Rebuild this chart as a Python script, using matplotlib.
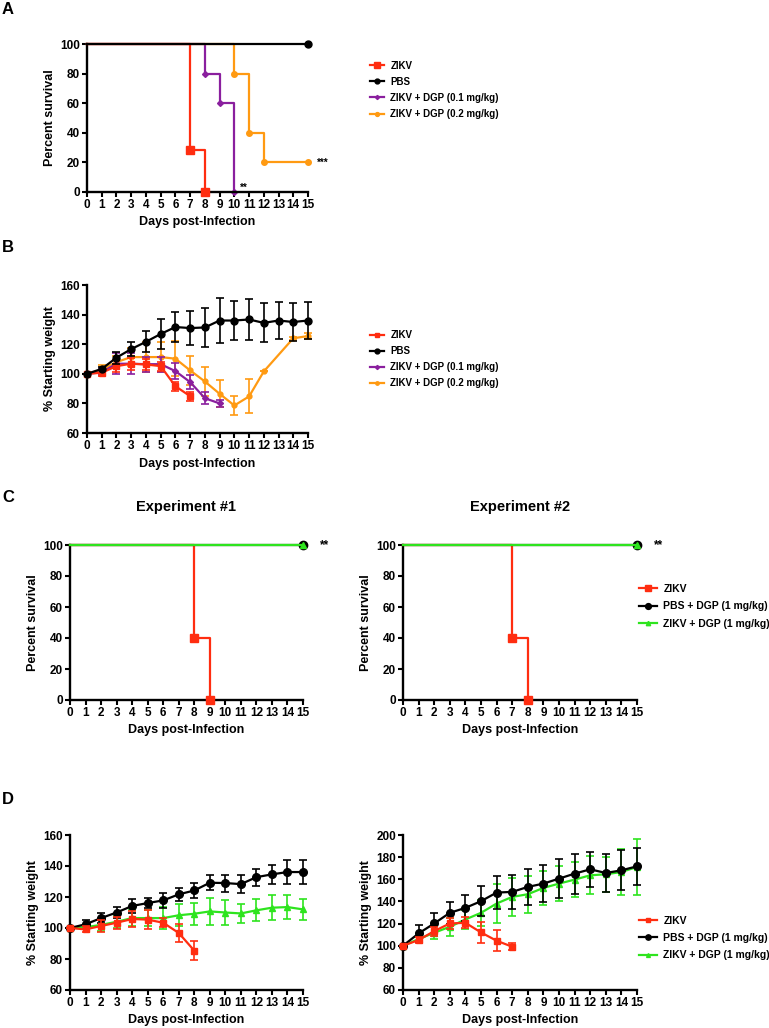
import matplotlib
matplotlib.use("Agg")
import matplotlib.pyplot as plt
import numpy as np

plt.rcParams['font.family'] = ['Liberation Sans', 'DejaVu Sans']
plt.rcParams['font.weight'] = 'bold'
plt.rcParams['axes.labelweight'] = 'bold'

RED = '#FF2D10'
BLACK = '#000000'
PURPLE = '#8A1F9E'
ORANGE = '#FF9A12'
GREEN = '#2EE41E'

days = list(range(16))

# ---- A: survival (event days / percent) ----
a_zikv_t = [0, 7, 8]
a_zikv_s = [100, 28.6, 0]
a_pbs_t = [0, 15]
a_pbs_s = [100, 100]
a_dgp01_t = [0, 8, 9, 10]
a_dgp01_s = [100, 80, 60, 0]
a_dgp02_t = [0, 10, 11, 12, 15]
a_dgp02_s = [100, 80, 40, 20, 20]
a_labels = ['ZIKV', 'PBS', 'ZIKV + DGP (0.1 mg/kg)', 'ZIKV + DGP (0.2 mg/kg)']

# ---- B: weight ----
b_zikv = [100, 100.7, 105.2, 106.8, 106.3, 105.2, 91.6, 84.9]
b_zikv_err = [0, 2, 4, 4, 4, 3, 3, 3]
b_pbs = [100, 103.3, 110.9, 116.7, 121.6, 126.9, 131.6, 130.9, 131.3, 136, 136, 136.7, 134.4, 136, 135, 136]
b_pbs_err = [0, 1, 4, 4.5, 7, 10, 10, 11.5, 13, 15, 13.3, 14, 13.2, 12.7, 13, 12.7]
b_dgp01 = [100, 101, 106.8, 106.8, 106.5, 106.5, 101.8, 94.4, 83.5, 80]
b_dgp01_err = [0, 2, 7, 7, 5, 5, 5.5, 5, 4, 2.5]
b_dgp02_days = [0, 1, 2, 3, 4, 5, 6, 7, 8, 9, 10, 11, 12, 14, 15]
b_dgp02 = [100, 102.7, 107.9, 111.3, 111.3, 111.3, 110.2, 102.3, 94.8, 86.5, 78.6, 84.7, 101.6, 124, 125.5]
b_dgp02_err = [0, 3, 4, 6, 10, 10, 12, 10, 10, 9, 6.5, 11.5, 0, 1, 2]

# ---- C: survival, two experiments ----
c1_zikv_t = [0, 8, 9]
c1_zikv_s = [100, 40, 0]
c2_zikv_t = [0, 7, 8]
c2_zikv_s = [100, 40, 0]
c_flat_t = [0, 15]
c_flat_s = [100, 100]
c_labels = ['ZIKV', 'PBS + DGP (1 mg/kg)', 'ZIKV + DGP (1 mg/kg)']

# ---- D: weight, two experiments ----
d1_zikv = [100, 99.1, 101.3, 103.4, 105.8, 105.4, 103.4, 96.8, 85.4]
d1_zikv_err = [0, 2, 4, 4, 5, 6, 3, 6, 6]
d1_pbs = [100, 102.4, 106.4, 110, 114.2, 116.1, 117.8, 121.7, 124.2, 129.2, 129, 128.3, 132.8, 134.6, 136.1, 136.1]
d1_pbs_err = [0, 3, 3, 3.5, 4.5, 3.5, 5, 4, 5, 5, 5.5, 6, 5.5, 6, 7.5, 7.5]
d1_dgp = [100, 100.5, 102, 104, 106.4, 106.4, 106.4, 108.2, 109.2, 110.7, 110, 109.4, 111.4, 113.1, 113.5, 112]
d1_dgp_err = [0, 1, 4, 4, 5, 5, 7, 7, 7, 8.5, 8, 6, 7, 8, 8, 7]

d2_zikv = [100, 105.1, 113.2, 120.1, 120.7, 112, 104.5, 99.1]
d2_zikv_err = [0, 3, 4, 5, 5, 9.5, 9.5, 3]
d2_pbs = [100, 111.1, 120.1, 129.7, 134.2, 140.2, 148, 148.6, 153.1, 156.1, 160.6, 165.1, 169, 165.7, 168.1, 171.7]
d2_pbs_err = [0, 8, 9, 10, 12, 13.5, 15, 15, 16, 17, 17.5, 18, 16, 17.5, 18, 16.5]
d2_dgp = [100, 106, 111.7, 117.1, 123.7, 129.7, 138.1, 144.1, 146.5, 152.2, 156.1, 159.7, 163.6, 164.5, 166.6, 171.1]
d2_dgp_err = [0, 3, 6, 8, 9, 12, 18, 17, 16.5, 15.5, 15.5, 16, 17, 16, 21, 25]

W, H = 769, 1028
fig = plt.figure(figsize=(W / 100, H / 100), dpi=100)


def make_ax(left, right, top, bottom):
    ax = fig.add_axes([left / W, 1 - bottom / H, (right - left) / W, (bottom - top) / H])
    for s in ['top', 'right']:
        ax.spines[s].set_visible(False)
    for s in ['left', 'bottom']:
        ax.spines[s].set_linewidth(1.7)
    ax.tick_params(direction='out', length=3.5, width=1.5, labelsize=8.5, pad=1.5)
    ax.set_xlim(0, 15)
    ax.set_xticks(days)
    ax.set_xlabel('Days post-Infection', fontsize=9, labelpad=4)
    for lab in ax.get_xticklabels() + ax.get_yticklabels():
        lab.set_fontweight('bold')
    return ax


def survival(ax, t, s, color, marker, ms, z=2):
    ax.step(t, s, where='post', color=color, lw=1.6, zorder=z, clip_on=False)
    ax.plot(t[1:], s[1:], ls='none', marker=marker, ms=ms, color=color, zorder=z + 0.5, clip_on=False)
    return plt.Line2D([], [], color=color, lw=1.6, marker=marker, ms=ms * 0.7)


def weight(ax, x, y, e, color, marker, ms, z=2):
    ax.errorbar(x, y, yerr=e, fmt='none', ecolor=color, elinewidth=1.2, capsize=3,
                capthick=1.2, zorder=z, clip_on=False)
    ax.plot(x, y, color=color, lw=1.6, marker=marker, ms=ms, zorder=z + 0.5, clip_on=False)
    return plt.Line2D([], [], color=color, lw=1.6, marker=marker, ms=ms * 0.7)


# ---- Panel A ----
axA = make_ax(87, 308, 44, 192)
axA.set_ylim(0, 100)
axA.set_yticks(range(0, 101, 20))
axA.set_ylabel('Percent survival', fontsize=9, labelpad=3)
hA = [survival(axA, a_zikv_t, a_zikv_s, RED, 's', 5.5, 3),
      survival(axA, a_pbs_t, a_pbs_s, BLACK, 'o', 5, 4),
      survival(axA, a_dgp01_t, a_dgp01_s, PURPLE, 'D', 3, 2),
      survival(axA, a_dgp02_t, a_dgp02_s, ORANGE, 'o', 4, 2)]
axA.text(10.4, 3, '**', fontsize=7, ha='left', va='center')
axA.text(15.6, 20, '***', fontsize=7, ha='left', va='center')
axA.legend(hA, a_labels, loc='center left', bbox_to_anchor=(1.28, 0.69), frameon=False,
           fontsize=7, handlelength=1.5, handletextpad=0.6, labelspacing=0.62,
           borderaxespad=0, borderpad=0)

# ---- Panel B ----
axB = make_ax(87, 308, 285, 433)
axB.set_ylim(60, 160)
axB.set_yticks(range(60, 161, 20))
axB.set_ylabel('% Starting weight', fontsize=9, labelpad=3)
hB = [weight(axB, days[:len(b_zikv)], b_zikv, b_zikv_err, RED, 's', 5, 3),
      weight(axB, days, b_pbs, b_pbs_err, BLACK, 'o', 5, 4),
      weight(axB, days[:len(b_dgp01)], b_dgp01, b_dgp01_err, PURPLE, 'D', 3, 2),
      weight(axB, b_dgp02_days, b_dgp02, b_dgp02_err, ORANGE, 'o', 3.5, 1)]
axB.legend(hB, a_labels, loc='center left', bbox_to_anchor=(1.28, 0.50), frameon=False,
           fontsize=7, handlelength=1.5, handletextpad=0.6, labelspacing=0.62,
           borderaxespad=0, borderpad=0)

# ---- Panel C ----
for left, right, zt, zs, title in [(70, 303, c1_zikv_t, c1_zikv_s, 'Experiment #1'),
                                   (403, 637, c2_zikv_t, c2_zikv_s, 'Experiment #2')]:
    ax = make_ax(left, right, 545, 700)
    ax.set_ylim(0, 100)
    ax.set_yticks(range(0, 101, 20))
    ax.set_ylabel('Percent survival', fontsize=9, labelpad=3)
    hC = [survival(ax, zt, zs, RED, 's', 5.5, 3),
          survival(ax, c_flat_t, c_flat_s, BLACK, 'o', 6, 4),
          survival(ax, c_flat_t, c_flat_s, GREEN, '^', 4.5, 5)]
    ax.text(16.1, 100, '**', fontsize=8.5, ha='left', va='center')
    ax.text(0.5, 1.245, title, transform=ax.transAxes, fontsize=10.5, ha='center', va='center')
legC = ax.legend(hC, c_labels, loc='center left', bbox_to_anchor=(1.01, 0.605), frameon=False,
                 fontsize=7.5, handlelength=1.7, handletextpad=0.6, labelspacing=0.7,
                 borderaxespad=0, borderpad=0)

# ---- Panel D ----
axD1 = make_ax(70, 303, 835, 990)
axD1.set_ylim(60, 160)
axD1.set_yticks(range(60, 161, 20))
axD1.set_ylabel('% Starting weight', fontsize=9, labelpad=3)
weight(axD1, days, d1_dgp, d1_dgp_err, GREEN, '^', 4, 2)
weight(axD1, days, d1_pbs, d1_pbs_err, BLACK, 'o', 5.5, 3)
weight(axD1, days[:len(d1_zikv)], d1_zikv, d1_zikv_err, RED, 's', 5, 4)

axD2 = make_ax(403, 637, 835, 990)
axD2.set_ylim(60, 200)
axD2.set_yticks(range(60, 201, 20))
axD2.set_ylabel('% Starting weight', fontsize=9, labelpad=3)
hD = [weight(axD2, days[:len(d2_zikv)], d2_zikv, d2_zikv_err, RED, 's', 5, 4),
      weight(axD2, days, d2_pbs, d2_pbs_err, BLACK, 'o', 5.5, 3),
      weight(axD2, days, d2_dgp, d2_dgp_err, GREEN, '^', 4, 2)]
axD2.legend(hD, c_labels, loc='center left', bbox_to_anchor=(1.01, 0.335), frameon=False,
            fontsize=7.5, handlelength=1.7, handletextpad=0.6, labelspacing=0.7,
            borderaxespad=0, borderpad=0)

# panel letters
for letter, y in [('A', 10), ('B', 247), ('C', 497), ('D', 800)]:
    fig.text(2 / W, 1 - y / H, letter, fontsize=12, fontweight='bold', ha='left', va='center')

fig.savefig('out.png', dpi=100)
